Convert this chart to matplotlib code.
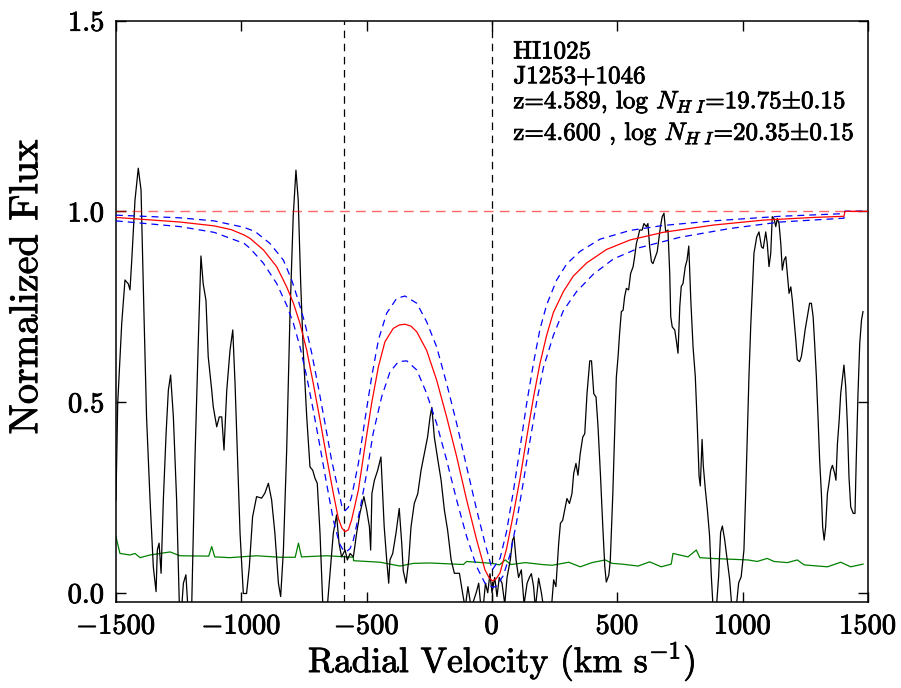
import matplotlib
matplotlib.use("Agg")
import matplotlib.pyplot as plt
import matplotlib.patheffects as pe

plt.rcParams['font.family'] = 'serif'
plt.rcParams['font.serif'] = ['cmr10']
plt.rcParams['mathtext.fontset'] = 'cm'
plt.rcParams['axes.formatter.use_mathtext'] = True
plt.rcParams['axes.unicode_minus'] = True

# ---- observed spectrum (velocity km/s, normalized flux) ----
spec_v = [-1500, -1493, -1477, -1464, -1451, -1444, -1437, -1424, -1411, -1400, -1388, -1378, -1364, -1351,
          -1340, -1335, -1328, -1320, -1311, -1300, -1291, -1282, -1271, -1258, -1247, -1238, -1231, -1221,
          -1213, -1198, -1185, -1171, -1161, -1152, -1141, -1132, -1118, -1112, -1098, -1088, -1078, -1069,
          -1058, -1045, -1034, -1025, -1016, -1005, -992, -979, -968, -955, -939, -919, -906, -892, -879,
          -866, -852, -843, -832, -819, -806, -793, -782, -773, -763, -753, -739, -726, -715, -706, -697,
          -686, -675, -657, -646, -633, -620, -610, -600, -586, -577, -566, -553, -540, -527, -511, -500,
          -489, -484, -479, -469, -456, -443, -436, -430, -420, -412, -407, -396, -383, -370, -360, -354,
          -343, -332, -323, -310, -296, -283, -270, -257, -247, -240, -230, -216, -203, -190, -177, -163,
          -150, -130, -117, -107, -96, -83, -63, -53, -44, -34, -26, -17, -8, 0, 11, 20, 29, 40, 51, 60,
          73, 82, 88, 96, 106, 117, 128, 140, 149, 157, 166, 173, 186, 197, 206, 237, 246, 255, 266, 273,
          282, 290, 299, 309, 319, 326, 335, 343, 352, 362, 370, 379, 390, 397, 406, 415, 423, 433, 442,
          450, 456, 466, 472, 482, 490, 496, 503, 509, 516, 523, 529, 536, 545, 553, 563, 569, 576, 583,
          589, 599, 606, 616, 622, 629, 636, 642, 652, 659, 665, 672, 679, 686, 693, 702, 709, 713, 719,
          729, 735, 742, 749, 755, 762, 771, 778, 785, 793, 802, 811, 819, 826, 831, 838, 843, 851, 859,
          868, 875, 882, 895, 904, 912, 919, 928, 938, 948, 957, 974, 984, 994, 1005, 1012, 1019, 1025,
          1032, 1039, 1045, 1056, 1065, 1075, 1082, 1092, 1098, 1105, 1112, 1118, 1125, 1132, 1138, 1145,
          1152, 1158, 1165, 1172, 1178, 1185, 1192, 1198, 1205, 1212, 1218, 1227, 1234, 1242, 1249, 1258,
          1267, 1274, 1281, 1287, 1294, 1301, 1307, 1314, 1319, 1325, 1331, 1338, 1344, 1351, 1358, 1367,
          1372, 1378, 1385, 1391, 1400, 1404, 1411, 1418, 1424, 1431, 1441, 1448, 1453, 1460, 1467, 1474,
          1480]
spec_f = [0.243, 0.497, 0.706, 0.82, 0.81, 0.794, 0.872, 1.03, 1.113, 1.056, 0.724, 0.461, 0.243, 0.068,
          0.003, 0.112, 0.130, 0.051, 0.243, 0.418, 0.531, 0.571, 0.461, 0.243, -0.037, -0.04, 0.025, 0.047,
          -0.04, -0.04, 0.348, 0.671, 0.883, 0.81, 0.767, 0.619, 0.531, 0.488, 0.435, 0.461, 0.461, 0.374,
          0.531, 0.636, 0.689, 0.549, 0.374, 0.156, -0.002, -0.002, 0.068, 0.199, 0.252, 0.248, 0.261, 0.287,
          0.243, 0.156, 0.025, -0.01, 0.112, 0.374, 0.724, 0.986, 1.108, 1.03, 0.81, 0.636, 0.461, 0.330,
          0.321, 0.30, 0.287, 0.156, -0.03, -0.037, 0.051, 0.156, 0.204, 0.129, 0.094, 0.112, 0.086, 0.103,
          0.094, 0.156, 0.208, 0.252, 0.217, 0.173, 0.112, 0.26, 0.295, 0.321, 0.356, 0.26, 0.173, 0.086,
          0.025, 0.086, 0.103, 0.156, 0.221, 0.129, 0.058, 0.025, 0.086, 0.173, 0.234, 0.26, 0.321, 0.365,
          0.408, 0.461, 0.486, 0.408, 0.348, 0.295, 0.217, 0.164, 0.086, 0.051, 0.051, -0.002, -0.04, 0.016,
          -0.04, 0.0, 0.025, -0.04, -0.03, 0.025, 0.0, 0.05, 0.0, 0.04, -0.01, 0.04, 0.025, -0.03, 0.04,
          0.086, 0.138, 0.147, 0.086, 0.04, 0.06, -0.03, 0.025, 0.04, 0.05, 0.016, -0.04, 0.038, 0.0, -0.04,
          -0.04, 0.034, 0.016, 0.129, 0.182, 0.19, 0.217, 0.247, 0.234, 0.26, 0.313, 0.339, 0.308, 0.365,
          0.408, 0.417, 0.522, 0.608, 0.608, 0.522, 0.513, 0.435, 0.304, 0.173, 0.068, 0.028, 0.046, 0.086,
          0.26, 0.435, 0.565, 0.62, 0.68, 0.737, 0.741, 0.776, 0.798, 0.794, 0.837, 0.855, 0.881, 0.916,
          0.933, 0.951, 0.951, 0.968, 0.96, 0.968, 0.907, 0.868, 0.863, 0.881, 0.894, 0.925, 0.96, 0.986,
          0.995, 0.946, 0.951, 0.837, 0.724, 0.697, 0.689, 0.663, 0.628, 0.75, 0.803, 0.811, 0.855, 0.872,
          0.909, 0.768, 0.645, 0.567, 0.437, 0.306, 0.28, 0.402, 0.332, 0.271, 0.219, 0.149, 0.042, -0.04,
          -0.04, 0.042, 0.158, 0.175, 0.14, 0.088, 0.035, -0.04, -0.04, 0.026, 0.042, 0.112, 0.26, 0.42,
          0.566, 0.697, 0.802, 0.89, 0.933, 0.946, 0.907, 0.903, 0.946, 0.916, 0.855, 0.89, 0.986, 0.981,
          0.96, 0.981, 0.968, 0.916, 0.846, 0.872, 0.881, 0.837, 0.785, 0.802, 0.768, 0.715, 0.663, 0.611,
          0.606, 0.619, 0.654, 0.689, 0.724, 0.759, 0.759, 0.724, 0.654, 0.566, 0.453, 0.348, 0.26, 0.173,
          0.138, 0.173, 0.26, 0.286, 0.321, 0.334, 0.313, 0.295, 0.391, 0.453, 0.522, 0.575, 0.597, 0.54,
          0.435, 0.304, 0.225, 0.208, 0.208, 0.348, 0.522, 0.654, 0.715, 0.737]

# ---- error spectrum ----
err_v = [-1500, -1484, -1444, -1424, -1404, -1364, -1284, -1245, -1130, -1118, -1106, -1045, -939, -846,
         -785, -772, -760, -659, -553, -552, -446, -367, -313, -247, -114, -101, 0, 30, 53, 75, 133, 200,
         240, 306, 352, 399, 452, 479, 519, 583, 629, 675, 715, 722, 782, 815, 829, 875, 1021, 1058, 1098,
         1125, 1178, 1218, 1245, 1338, 1391, 1431, 1480]
err_f = [0.147, 0.103, 0.099, 0.103, 0.092, 0.099, 0.107, 0.097, 0.096, 0.121, 0.094, 0.092, 0.097, 0.093,
         0.093, 0.130, 0.094, 0.097, 0.093, 0.084, 0.080, 0.070, 0.077, 0.078, 0.074, 0.082, 0.077, 0.073,
         0.086, 0.074, 0.079, 0.074, 0.072, 0.080, 0.068, 0.079, 0.086, 0.077, 0.075, 0.070, 0.081, 0.068,
         0.075, 0.103, 0.094, 0.112, 0.092, 0.090, 0.086, 0.082, 0.090, 0.082, 0.079, 0.086, 0.073, 0.068,
         0.080, 0.068, 0.075]

# ---- best-fit model ----
model_v = [-1500, -1245, -1109, -1040, -989, -965, -912, -859, -819, -792, -766, -739, -713, -686, -660,
           -633, -613, -599, -586, -573, -560, -533, -507, -480, -453, -427, -394, -370, -347, -323, -300,
           -261, -221, -181, -141, -101, -61, -28, -12, 1, 16, 32, 58, 85, 112, 138, 165, 191, 218, 245,
           285, 324, 378, 457, 551, 683, 883, 1083, 1282, 1404, 1408, 1500]
model_f = [0.984, 0.972, 0.962, 0.952, 0.938, 0.929, 0.899, 0.855, 0.802, 0.759, 0.706, 0.636, 0.549, 0.453,
           0.357, 0.261, 0.195, 0.170, 0.160, 0.165, 0.191, 0.269, 0.383, 0.497, 0.593, 0.658, 0.693, 0.702,
           0.704, 0.699, 0.684, 0.636, 0.558, 0.461, 0.357, 0.243, 0.138, 0.060, 0.040, 0.031, 0.036, 0.052,
           0.115, 0.205, 0.300, 0.405, 0.510, 0.600, 0.675, 0.735, 0.790, 0.830, 0.865, 0.900, 0.925, 0.945,
           0.964, 0.977, 0.984, 0.987, 1.0, 1.0]

# ---- model with N_HI - 1 sigma (upper) ----
hi_v = [-1500, -1245, -1109, -989, -945, -886, -832, -799, -773, -746, -719, -693, -666, -640, -613, -599,
        -586, -573, -560, -533, -507, -480, -453, -420, -380, -347, -300, -261, -221, -181, -141, -101, -61,
        -28, 1, 32, 58, 85, 112, 138, 165, 191, 218, 258, 298, 351, 431, 551, 683, 883, 1149, 1404, 1408,
        1500]
hi_f = [0.990, 0.983, 0.975, 0.958, 0.947, 0.916, 0.872, 0.820, 0.767, 0.706, 0.628, 0.540, 0.444, 0.348,
        0.269, 0.228, 0.215, 0.224, 0.252, 0.339, 0.453, 0.566, 0.663, 0.733, 0.772, 0.778, 0.759, 0.711,
        0.645, 0.549, 0.444, 0.330, 0.217, 0.130, 0.060, 0.090, 0.160, 0.265, 0.380, 0.495, 0.600, 0.690,
        0.755, 0.820, 0.862, 0.895, 0.927, 0.950, 0.963, 0.975, 0.987, 0.994, 1.0, 1.0]

# ---- model with N_HI + 1 sigma (lower) ----
lo_v = [-1500, -1245, -1109, -989, -965, -912, -859, -819, -792, -766, -739, -713, -686, -660, -633, -609,
        -594, -580, -566, -553, -527, -500, -474, -440, -407, -373, -340, -300, -261, -221, -181, -141, -101,
        -61, -28, 5, 19, 45, 72, 98, 125, 152, 178, 205, 245, 285, 338, 404, 484, 590, 750, 949, 1149, 1404,
        1408, 1500]
lo_f = [0.975, 0.960, 0.945, 0.916, 0.903, 0.864, 0.811, 0.754, 0.706, 0.645, 0.566, 0.479, 0.383, 0.287,
        0.191, 0.130, 0.112, 0.108, 0.116, 0.138, 0.217, 0.313, 0.418, 0.514, 0.579, 0.606, 0.608, 0.584,
        0.523, 0.444, 0.348, 0.243, 0.147, 0.068, 0.025, 0.014, 0.018, 0.045, 0.100, 0.185, 0.290, 0.400,
        0.500, 0.590, 0.675, 0.740, 0.790, 0.835, 0.875, 0.905, 0.932, 0.955, 0.972, 0.982, 1.0, 1.0]

x_ticks = [-1500, -1000, -500, 0, 500, 1000, 1500]
y_ticks = [0.0, 0.5, 1.0, 1.5]
dla_velocities = [-589, 0]
info_lines = ['HI1025',
              'J1253+1046',
              r'z=4.589, log $N_{H\ I}$=19.75$\pm$0.15',
              r'z=4.600 , log $N_{H\ I}$=20.35$\pm$0.15']

bold = [pe.withStroke(linewidth=0.6, foreground='black')]

fig = plt.figure(figsize=(9.01, 6.88), dpi=100)
ax = fig.add_axes([0.1287, 0.1246, 0.8347, 0.8454])

ax.plot(err_v, err_f, color='#008000', lw=0.9, zorder=2)
ax.plot(spec_v, spec_f, color='black', lw=0.9, zorder=3)
for v in dla_velocities:
    ax.axvline(v, color='black', lw=0.9, ls=(0, (6, 4.5)), zorder=4)
ax.axhline(1.0, color='red', alpha=0.6, lw=1.0, ls=(0, (7, 4.5)), zorder=4)
ax.plot(hi_v, hi_f, color='blue', lw=0.9, ls=(0, (5.5, 4)), zorder=5)
ax.plot(lo_v, lo_f, color='blue', lw=0.9, ls=(0, (5.5, 4)), zorder=5)
ax.plot(model_v, model_f, color='red', lw=0.9, zorder=6)

ax.set_xlim(-1500, 1500)
ax.set_ylim(-0.025, 1.5)
ax.set_xticks(x_ticks)
ax.set_yticks(y_ticks)
ax.tick_params(direction='in', length=7, width=1.0, labelsize=20.5, pad=8,
               top=True, right=True)
for s in ax.spines.values():
    s.set_linewidth(1.1)
for lab in ax.get_xticklabels() + ax.get_yticklabels():
    lab.set_path_effects(bold)

ax.set_xlabel(r'Radial Velocity (km s$^{-1}$)', fontsize=25.5, path_effects=bold)
ax.xaxis.set_label_coords(0.513, -0.12, transform=ax.transAxes)
ax.xaxis.label.set_va('baseline')
ax.set_ylabel('Normalized Flux', fontsize=29, path_effects=bold)
ax.yaxis.set_label_coords(-0.118, 0.542, transform=ax.transAxes)
ax.yaxis.label.set_va('center')

ys = [1.401, 1.336, 1.270, 1.187]
for t, y in zip(info_lines, ys):
    ax.text(85, y, t, fontsize=18, va='baseline', ha='left', zorder=7,
            path_effects=bold)

fig.savefig('out.png', dpi=100)
